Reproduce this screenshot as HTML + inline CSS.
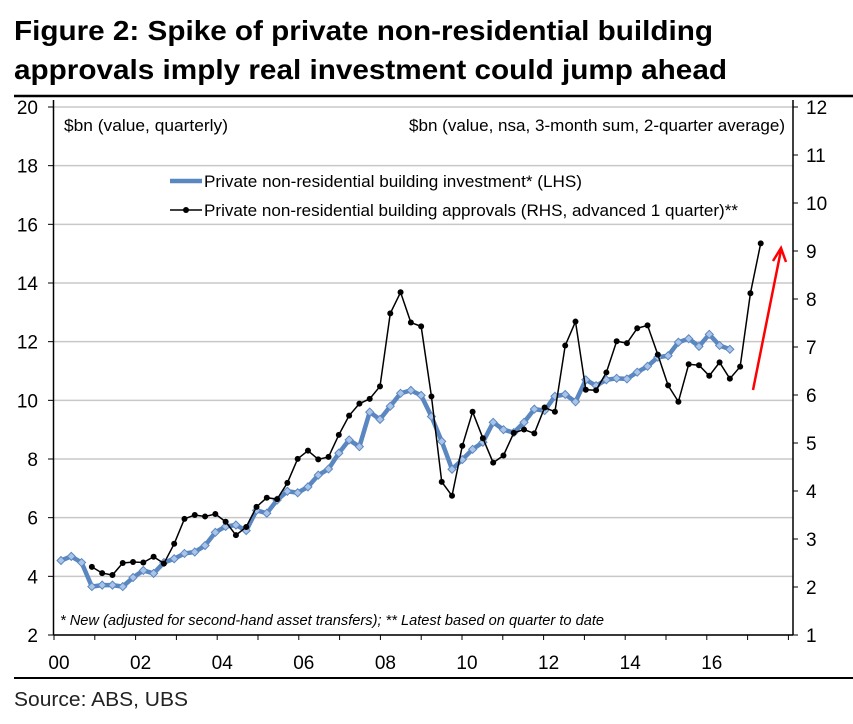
<!DOCTYPE html>
<html><head><meta charset="utf-8"><style>
body{margin:0;background:#fff;width:853px;height:724px;overflow:hidden;font-family:"Liberation Sans",Arial,sans-serif}
svg{display:block}
</style></head><body>
<svg id="chart" width="853" height="724">
<text x="14" y="40" font-size="28" font-weight="bold" fill="#000" textLength="699" lengthAdjust="spacingAndGlyphs">Figure 2: Spike of private non-residential building</text>
<text x="14" y="79" font-size="28" font-weight="bold" fill="#000" textLength="713" lengthAdjust="spacingAndGlyphs">approvals imply real investment could jump ahead</text>
<line x1="14" y1="96" x2="853" y2="96" stroke="#000" stroke-width="2.5"/>
<line x1="14" y1="678" x2="853" y2="678" stroke="#000" stroke-width="2"/>
<text x="14" y="706" font-size="20" fill="#222" textLength="174" lengthAdjust="spacingAndGlyphs">Source: ABS, UBS</text>
<g id="grid"></g>
<g id="axes"></g>
<text x="64" y="131" font-size="17" textLength="164" lengthAdjust="spacingAndGlyphs">$bn (value, quarterly)</text>
<text x="409" y="131" font-size="17" textLength="376" lengthAdjust="spacingAndGlyphs">$bn (value, nsa, 3-month sum, 2-quarter average)</text>
<g>
<line x1="170" y1="181" x2="202" y2="181" stroke="#5b87c0" stroke-width="4.5"/>
<text x="204" y="187" font-size="17" textLength="378" lengthAdjust="spacingAndGlyphs">Private non-residential building investment* (LHS)</text>
<line x1="170" y1="210" x2="202" y2="210" stroke="#000" stroke-width="1.5"/>
<circle cx="186" cy="210" r="3" fill="#000"/>
<text x="204" y="216" font-size="17" textLength="534" lengthAdjust="spacingAndGlyphs">Private non-residential building approvals (RHS, advanced 1 quarter)**</text>
</g>
<text x="60" y="625" font-size="15" font-style="italic" textLength="544" lengthAdjust="spacingAndGlyphs">* New (adjusted for second-hand asset transfers); ** Latest based on quarter to date</text>
<g id="series"></g>
<g>
<line x1="753" y1="390" x2="781" y2="250" stroke="#f00" stroke-width="2.5"/>
<polyline points="773,261 781,248 786,262" fill="none" stroke="#f00" stroke-width="2.5"/>
</g>
</svg>
<script>
const leftTicks=[2,4,6,8,10,12,14,16,18,20];
const rightTicks=[1,2,3,4,5,6,7,8,9,10,11,12];
const yearLabels=["00","02","04","06","08","10","12","14","16"];
const investment=[4.54,4.68,4.47,3.65,3.7,3.7,3.65,3.96,4.2,4.1,4.47,4.6,4.78,4.83,5.05,5.5,5.7,5.75,5.56,6.25,6.15,6.6,6.9,6.85,7.05,7.45,7.66,8.2,8.65,8.42,9.6,9.35,9.8,10.24,10.34,10.17,9.45,8.6,7.65,7.98,8.33,8.57,9.25,9.0,8.9,9.25,9.7,9.65,10.14,10.2,9.95,10.7,10.5,10.7,10.75,10.73,10.96,11.16,11.47,11.52,11.98,12.1,11.84,12.25,11.87,11.74];
const approvalsStart=3;
const approvals=[2.42,2.29,2.25,2.5,2.52,2.51,2.63,2.49,2.9,3.42,3.5,3.47,3.52,3.36,3.08,3.25,3.67,3.86,3.83,4.17,4.67,4.84,4.66,4.71,5.17,5.57,5.82,5.92,6.18,7.7,8.14,7.51,7.43,5.97,4.19,3.9,4.94,5.65,5.1,4.59,4.74,5.21,5.28,5.2,5.74,5.65,7.03,7.53,6.11,6.1,6.47,7.12,7.08,7.39,7.45,6.84,6.2,5.86,6.64,6.62,6.4,6.68,6.34,6.59,8.12,9.16];

const NS="http://www.w3.org/2000/svg";
const X0=53.5,X1=793,YT=107,YB=635;
const yL=v=>YB-(v-2)/18*(YB-YT);
const yR=v=>YB-(v-1)/11*(YB-YT);
const xQ=i=>61+i*10.29;
const xYear=k=>54+k*40.8;
function mk(t,a,p){const e=document.createElementNS(NS,t);for(const k in a)e.setAttribute(k,a[k]);(p||document.getElementById('series')).appendChild(e);return e;}
const grid=document.getElementById('grid'),axes=document.getElementById('axes');
leftTicks.forEach(v=>{
  const g=mk('line',{x1:X0,x2:X1,y1:yL(v),y2:yL(v),stroke:'#c8c8c8','stroke-width':1.5},grid);
  
  
  mk('line',{x1:48,x2:X0,y1:yL(v),y2:yL(v),stroke:'#000'},axes);
  const t=mk('text',{x:38,y:yL(v)+7,'font-size':19,'text-anchor':'end'},axes);t.textContent=v;
  
  
});
rightTicks.forEach(v=>{
  mk('line',{x1:X1,x2:X1+5,y1:yR(v),y2:yR(v),stroke:'#000'},axes);
  const t=mk('text',{x:806,y:yR(v)+7,'font-size':19},axes);t.textContent=v;
  
  
});
mk('line',{x1:X0,x2:X0,y1:100,y2:YB,stroke:'#000','stroke-width':1.5},axes);
mk('line',{x1:X1,x2:X1,y1:100,y2:YB,stroke:'#000','stroke-width':1.5},axes);
mk('line',{x1:X0,x2:X1,y1:YB,y2:YB,stroke:'#000','stroke-width':1.5},axes);
for(let k=0;k<=18;k++){mk('line',{x1:xYear(k),x2:xYear(k),y1:YB,y2:YB+5,stroke:'#000'},axes);}
yearLabels.forEach((l,j)=>{
  const t=mk('text',{x:xYear(2*j)+5,y:669,'font-size':19,'text-anchor':'middle'},axes);t.textContent=l;
  
  
});
const inv=mk('polyline',{points:investment.map((v,i)=>xQ(i)+','+yL(v)).join(' '),fill:'none',stroke:'#5b87c0','stroke-width':4.5,'stroke-linejoin':'round'});


investment.forEach((v,i)=>{
  const x=xQ(i),y=yL(v);
  const d=mk('polygon',{points:`${x},${y-4} ${x+4},${y} ${x},${y+4} ${x-4},${y}`,fill:'#a9c4e8',stroke:'#5b87c0','stroke-width':1});
  
  
});
const ap=mk('polyline',{points:approvals.map((v,i)=>xQ(i+approvalsStart)+','+yR(v)).join(' '),fill:'none',stroke:'#000','stroke-width':1.5});


approvals.forEach((v,i)=>{
  const c=mk('circle',{cx:xQ(i+approvalsStart),cy:yR(v),r:3,fill:'#000'});
  
  
});
</script>
</body></html>
